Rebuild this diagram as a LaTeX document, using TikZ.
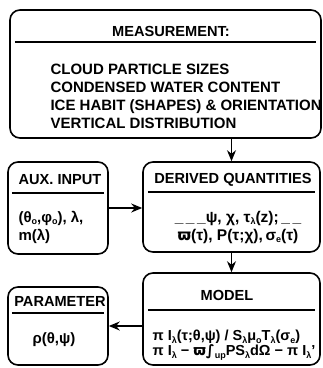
\documentclass[tikz,border=0pt]{standalone}
\usepackage{fontspec}
\setmainfont{Liberation Sans}
\newfontfamily\symfont{DejaVu Sans}
\usetikzlibrary{arrows.meta}
\newcommand\sbs[1]{\raisebox{-0.35ex}{\fontsize{9}{9}\selectfont #1}}

\begin{document}
\begin{tikzpicture}[x=1pt,y=-1pt,
  box/.style={draw, line width=1.6pt, rounded corners=10pt, inner sep=0pt},
  head/.style={font=\fontsize{14.6}{14.6}\selectfont\bfseries},
  body/.style={font=\fontsize{15}{18}\selectfont\bfseries},
  rule/.style={line width=1.2pt},
  flow/.style={line width=1.4pt, -{Stealth[length=11pt,width=9pt]}}]
  \useasboundingbox (0,0) rectangle (323,368);
  \node[box, minimum width=311pt, minimum height=128pt] (meas)  at (165.5,74) {};
  \node[box, minimum width=100pt, minimum height=92pt]  (aux)   at (58,208) {};
  \node[box, minimum width=177pt, minimum height=90pt]  (deriv) at (231.5,207) {};
  \node[box, minimum width=177pt, minimum height=92pt]  (model) at (231.5,319) {};
  \node[box, minimum width=100pt, minimum height=78pt]  (param) at (58,326) {};
  \draw[rule] (15,42) -- (316,42);
  \draw[rule] (12,193) -- (104,193);
  \draw[rule] (148,192) -- (315,192);
  \draw[rule] (148,310) -- (315,310);
  \draw[rule] (12,313) -- (104,313);
  \node[head] (meastitle)  at (171,31) {MEASUREMENT:};
  \node[head] (auxtitle)   at (60,180) {AUX. INPUT};
  \node[head] (derivtitle) at (233,180) {DERIVED QUANTITIES};
  \node[head] (modeltitle) at (227,295) {MODEL};
  \node[head] (paramtitle) at (60,301) {PARAMETER};
  \node[body, align=left, anchor=west] (measlist) at (47,96)
    {CLOUD PARTICLE SIZES\\CONDENSED WATER CONTENT\\ICE HABIT (SHAPES) \& ORIENTATION\\VERTICAL DISTRIBUTION};
  \node[body, align=left, anchor=west] (auxtext) at (15,227)
    {(θ\sbs{o},φ\sbs{o}), λ,\\m(λ)};
  \node[body, font=\fontsize{15.5}{18}\selectfont\bfseries, align=center] (derivtext) at (238,227)
    {\_\,\_\,\_ψ, χ, τ\sbs{λ}(z);\,\_\,\_\\{\symfont ϖ}(τ), P(τ;χ),\,σ\sbs{e}(τ)};
  \node[body, font=\fontsize{14.5}{15}\selectfont\bfseries, align=left] (modeltext) at (234,345)
    {π I\sbs{λ}(τ;θ,ψ) / S\sbs{λ}μ\sbs{o}T\sbs{λ}(σ\sbs{e})\\π I\sbs{λ} − {\symfont ϖ}{\symfont ∫}\sbs{up}PS\sbs{λ}dΩ − π I\sbs{λ}'};
  \node[body] (paramtext) at (54,340) {ρ(θ,ψ)};
  \draw[flow] (meas.south -| deriv.north) -- (deriv.north);
  \draw[flow] (aux.east) -- (aux.east -| deriv.west);
  \draw[flow] (deriv.south) -- (model.north);
  \draw[flow] (param.east -| model.west) -- (param.east);
\end{tikzpicture}
\end{document}
